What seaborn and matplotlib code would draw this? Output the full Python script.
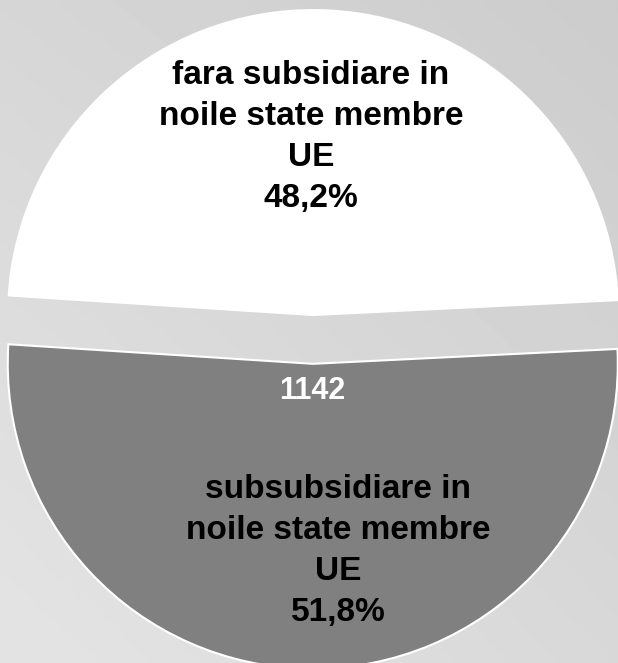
import numpy as np
import seaborn as sns
import matplotlib.pyplot as plt

categorii = ['fara subsidiare in\nnoile state membre\nUE', 'subsubsidiare in\nnoile state membre\nUE']
procente = [48.2, 51.8]
culori = ['#ffffff', '#808080']
numar_firme = '1142'

sns.set_theme(style='white')
plt.rcParams['font.family'] = ['Liberation Sans', 'DejaVu Sans']

fig = plt.figure(figsize=(6.18, 6.63), dpi=100)

# fundal gri in degrade (mai deschis jos-stanga, mai inchis sus-dreapta)
bg = fig.add_axes([0, 0, 1, 1])
xx, yy = np.meshgrid(np.linspace(0, 1, 200), np.linspace(0, 1, 200))
grad = 214 - 10 * xx + 14 * yy - 2 * xx * yy
bg.imshow(grad / 255.0, cmap='gray', vmin=0, vmax=1, aspect='auto', extent=[0, 1, 1, 0])
bg.set_axis_off()

ax = fig.add_axes([0, 0, 1, 1])
ax.set_facecolor('none')
etichete = [f'{c}\n{p:.1f}%'.replace('.', ',') for c, p in zip(categorii, procente)]
wedges, texts = ax.pie(procente, colors=culori, startangle=2.8, explode=[0.08, 0.08],
                       labels=etichete, labeldistance=0.585,
                       wedgeprops=dict(edgecolor='white', linewidth=1.5),
                       textprops=dict(fontsize=24, fontweight='bold', color='black',
                                      linespacing=1.42))
for t in texts:
    t.set_ha('center')
    t.set_va('center')
x0, y0 = texts[0].get_position()
texts[0].set_position((x0 - 0.012, y0))
x1, y1 = texts[1].get_position()
texts[1].set_position((x1 + 0.088, y1 - 0.028))

# numarul afisat in felia gri
g = wedges[1]
tm = np.deg2rad((g.theta1 + g.theta2) / 2)
ax.text(g.center[0] + 0.09 * np.cos(tm), g.center[1] + 0.09 * np.sin(tm),
        numar_firme, ha='center', va='center', fontsize=22, fontweight='bold', color='white')

ax.set_xlim(-1.026, 1.0)
ax.set_ylim(-1.061, 1.113)
ax.set_aspect('auto')
ax.set_axis_off()

plt.savefig('out.png', dpi=100)
